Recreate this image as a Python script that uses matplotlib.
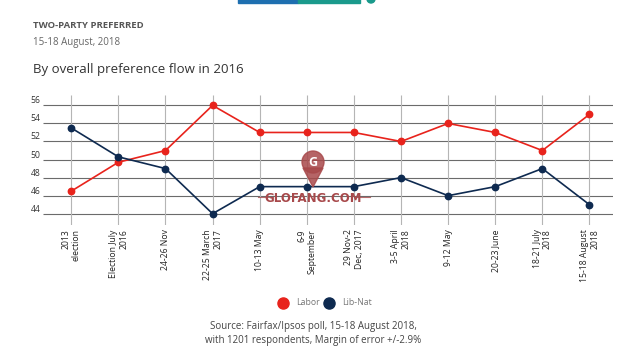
import matplotlib.pyplot as plt
import matplotlib.patches as mpatches
import numpy as np

# ── Data ──────────────────────────────────────────────────────────────────────
polls = ["2013\nelection", "Election July\n2016", "24-26 Nov",
         "22-25 March\n2017", "10-13 May", "6-9\nSeptember",
         "29 Nov-2\nDec, 2017", "3-5 April\n2018", "9-12 May",
         "20-23 June", "18-21 July\n2018", "15-18 August\n2018"]
labor   = [46.5, 49.7, 51, 56, 53, 53, 53, 52, 54, 53, 51, 55]
lib_nat = [53.5, 50.3, 49, 44, 47, 47, 47, 48, 46, 47, 49, 45]
y_ticks = [44, 46, 48, 50, 52, 54, 56]

C_LAB = "#e8231c"
C_LNP = "#0e2a50"
C_TXT = "#333333"

plt.rcParams["font.family"] = ["Open Sans", "DejaVu Sans"]

fig = plt.figure(figsize=(6.26, 3.6), dpi=100)
ax = fig.add_axes([43 / 626, 1 - 225 / 360, (613 - 43) / 626, 130 / 360])

x = np.arange(len(polls))

# grid
ax.hlines(y_ticks, -0.6, len(polls) - 0.5, color="#6b6b6b", lw=0.8, zorder=1)
ax.vlines(x, 42.75, 57.15, color="#b5b5b5", lw=0.8, zorder=1)

ax.plot(x, labor, color=C_LAB, lw=1.2, marker="o", markersize=4.6, zorder=3)
ax.plot(x, lib_nat, color=C_LNP, lw=1.2, marker="o", markersize=4.6, zorder=3)

ax.set_xlim(-0.6, len(polls) - 0.5)
ax.set_ylim(42.75, 57.15)
for s in ax.spines.values():
    s.set_visible(False)

ax.set_yticks(y_ticks)
ax.set_yticklabels([str(v) for v in y_ticks], fontsize=6.2, color=C_TXT)
for lbl in ax.get_yticklabels():
    lbl.set_va("bottom")
ax.tick_params(axis="y", length=0, pad=2)

ax.set_xticks(x)
ax.set_xticklabels(polls, rotation=90, fontsize=6.2, color="#222222",
                   multialignment="right", va="top", ha="center")
ax.tick_params(axis="x", length=0, pad=3)

# watermark
ax_wm = fig.add_axes([0, 0, 1, 1], facecolor="none")
ax_wm.set_xlim(0, 626)
ax_wm.set_ylim(360, 0)
ax_wm.axis("off")
wm = "#a8494b"
ax_wm.add_patch(mpatches.Circle((313, 162), 11, color=wm, alpha=0.85))
ax_wm.add_patch(mpatches.Polygon([[303, 168], [323, 168], [313, 187]],
                                 color=wm, alpha=0.85))
ax_wm.text(313, 163, "G", color="white", fontsize=9, fontweight="bold",
           ha="center", va="center")
ax_wm.text(313, 198, "GLOFANG.COM", color=wm, fontsize=8.5, fontweight="bold",
           ha="center", va="center", family="DejaVu Sans")
ax_wm.plot([258, 272], [197, 197], color=wm, lw=0.8, alpha=0.8)
ax_wm.plot([355, 370], [197, 197], color=wm, lw=0.8, alpha=0.8)

# cropped header bar
ax_wm.add_patch(mpatches.Rectangle((238, -1), 60, 3.5, color="#1e6fb0"))
ax_wm.add_patch(mpatches.Rectangle((298, -1), 62, 3.5, color="#1a9a8c"))
ax_wm.add_patch(mpatches.Circle((371, -1), 4, color="#1a9a8c"))

# legend
ax_wm.plot(283, 302.5, "o", color=C_LAB, markersize=8)
ax_wm.text(296, 302.5, "Labor", fontsize=6.3, color="#777777", va="center")
ax_wm.plot(329, 302.5, "o", color=C_LNP, markersize=8)
ax_wm.text(342, 302.5, "Lib-Nat", fontsize=6.3, color="#777777", va="center")

# titles
fig.text(33 / 626, 1 - 25 / 360, "TWO-PARTY PREFERRED", fontsize=6.8,
         fontweight="bold", color="#555555", va="center")
fig.text(33 / 626, 1 - 42 / 360, "15-18 August, 2018", fontsize=7,
         color="#666666", va="center")
fig.text(33 / 626, 1 - 69 / 360, "By overall preference flow in 2016",
         fontsize=9.5, color=C_TXT, va="center")

fig.text(313 / 626, 1 - 326 / 360,
         "Source: Fairfax/Ipsos poll, 15-18 August 2018,", fontsize=7,
         color="#444444", ha="center", va="center")
fig.text(313 / 626, 1 - 340 / 360,
         "with 1201 respondents, Margin of error +/-2.9%", fontsize=7,
         color="#444444", ha="center", va="center")

fig.savefig("out.png", dpi=100)
